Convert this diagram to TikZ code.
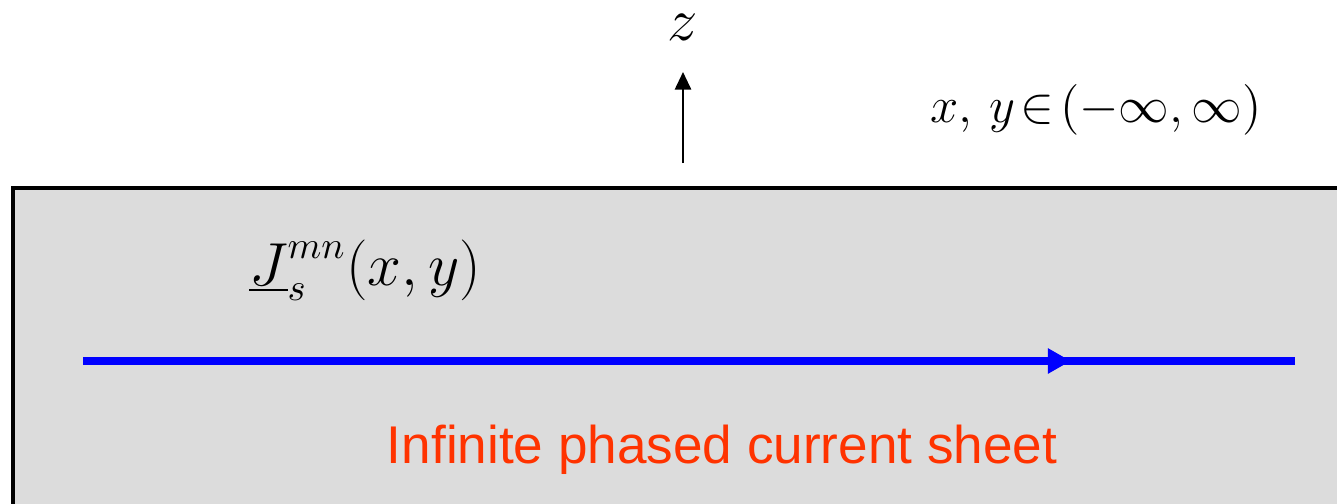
\documentclass[tikz,border=0pt]{standalone}
\usepackage{fontspec}
\setsansfont{Liberation Sans}
\usetikzlibrary{arrows.meta,decorations.markings}
\definecolor{sheetgray}{RGB}{220,220,220}
\definecolor{flame}{RGB}{255,51,0}
\definecolor{pureblue}{RGB}{0,0,255}

\begin{document}
\begin{tikzpicture}[x=0.01cm,y=-0.01cm]
        \useasboundingbox (0,0) rectangle (1337,503);
        % the sheet
        \draw[fill=sheetgray,line width=1pt] (13,188) rectangle (1350,520);
        % z axis
        \coordinate (zfoot) at (683,163);
        \coordinate (ztip) at (683,72);
        \draw[line width=0.6pt,-{Triangle[length=5pt,width=4.6pt]}] (zfoot) -- (ztip);
        \node[font=\fontsize{17}{20}\selectfont,inner sep=0pt] (zlab) at (683,27) {$z$};
        \node[font=\fontsize{15.5}{20}\selectfont] (range) at (1096,110)
          {$x,\,y\mathrel{\!\in\!}\bigl(-\infty,\infty\bigr)$};
        % current
        \node[font=\fontsize{16}{20}\selectfont] (jlab) at (365,270) {$\underline{J}_s^{mn}(x,y)$};
        \coordinate (jstart) at (83,361);
        \coordinate (jend) at (1295,361);
        \draw[pureblue,line width=2pt,postaction={decorate},decoration={markings,
          mark=at position 0.815 with {\arrow{Triangle[length=6.5pt,width=6.8pt]}}}] (jstart) -- (jend);
        \node[flame,font=\sffamily\fontsize{15.1}{18}\selectfont] (title) at (722,450) {Infinite phased current sheet};
      \end{tikzpicture}
\end{document}
